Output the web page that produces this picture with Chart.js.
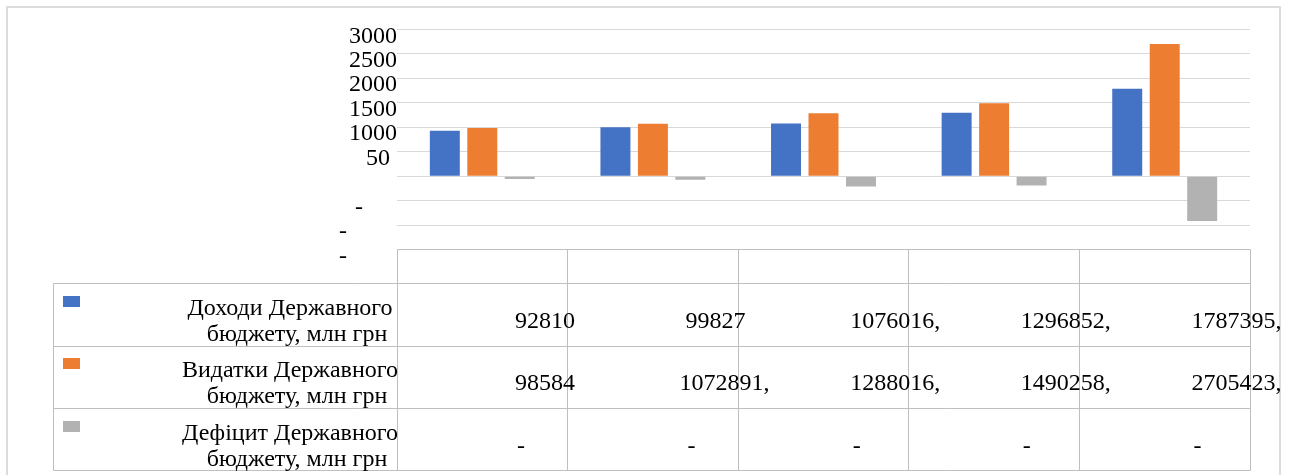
<!DOCTYPE html>
<html lang="uk">
<head>
<meta charset="utf-8">
<title>Доходи, видатки та дефіцит Державного бюджету</title>
<script src="https://cdn.jsdelivr.net/npm/chart.js@4.4.0/dist/chart.umd.min.js"></script>
<style>
  html, body { margin: 0; padding: 0; background: #ffffff; }
  #wrap { position: relative; width: 1293px; height: 475px; overflow: hidden; }
  canvas { display: block; }
</style>
</head>
<body>
<div id="wrap"><canvas id="budget" width="1293" height="475"></canvas></div>
<script>
// Category captions of the data-table header row (left blank)
const categories = ['', '', '', '', ''];

// Series names
const seriesNames = [
  'Доходи Державного бюджету, млн грн',
  'Видатки Державного бюджету, млн грн',
  'Дефіцит Державного бюджету, млн грн'
];

// Series values, млн грн
const revenue     = [928107.9, 998278.0, 1076016.6, 1296852.2, 1787395.4];
const expenditure = [985842.3, 1072891.0, 1288016.3, 1490258.4, 2705423.4];
const deficit     = [-57734.4, -74612.9, -211999.7, -193406.2, -918028.0];

// Value-axis ticks and the captions printed beside them
const yTicks      = [-1500000, -1000000, -500000, 0, 500000, 1000000, 1500000, 2000000, 2500000, 3000000];
const yTickLabels = ['-', '-', '-', '', '50', '1000', '1500', '2000', '2500', '3000'];

// How many leading characters of each table value stay visible in its cell
const shownChars = [
  [5, 5, 8, 8, 8],
  [5, 8, 8, 8, 8],
  [1, 1, 1, 1, 1]
];

const colors = ['#4472C4', '#ED7D31', '#B2B2B2'];
const seriesData = [revenue, expenditure, deficit];

const FONT = "24px 'Liberation Serif', 'Times New Roman', serif";
const TEXT = '#000000';
const BORDER = '#BFBFBF';

// Table geometry (below the plot area)
const rowTops = [283.5, 346, 408.5];
const tableBottom = 470.5;
const tableLeft = 53.5;

function fmt(v) {
  return v.toFixed(1).replace('.', ',');
}

const dataTable = {
  id: 'dataTable',
  afterDraw(chart) {
    const { ctx, chartArea: area, scales } = chart;
    const yScale = scales.y;
    const n = categories.length;
    const step = (area.right - area.left) / n;
    const edge = i => Math.floor(area.left + i * step) + 0.5;
    const headTop = Math.floor(area.bottom) + 0.5;

    ctx.save();

    // outer frame of the chart object
    ctx.strokeStyle = '#DCDCDC';
    ctx.lineWidth = 2;
    ctx.strokeRect(7, 7, 1273, 520);

    // value-axis captions
    ctx.font = FONT;
    ctx.fillStyle = TEXT;
    ctx.textAlign = 'right';
    ctx.textBaseline = 'alphabetic';
    yTicks.forEach((v, i) => {
      const label = yTickLabels[i];
      if (!label) return;
      const py = yScale.getPixelForValue(v) + 13;
      let px = 397;
      if (label === '-') px = (v === -500000) ? 363 : 347;
      else if (label.length < 4) px = 390;
      ctx.fillText(label, px, py);
    });

    // table grid
    ctx.strokeStyle = BORDER;
    ctx.lineWidth = 1;
    ctx.beginPath();
    ctx.moveTo(edge(0), headTop);
    ctx.lineTo(edge(n), headTop);
    [...rowTops, tableBottom].forEach(yy => {
      const yl = Math.floor(yy) + 0.5;
      ctx.moveTo(tableLeft, yl);
      ctx.lineTo(edge(n), yl);
    });
    ctx.moveTo(tableLeft, Math.floor(rowTops[0]) + 0.5);
    ctx.lineTo(tableLeft, Math.floor(tableBottom) + 0.5);
    for (let i = 0; i <= n; i++) {
      ctx.moveTo(edge(i), headTop);
      ctx.lineTo(edge(i), Math.floor(tableBottom) + 0.5);
    }
    ctx.stroke();

    // header row: category captions
    ctx.textAlign = 'center';
    categories.forEach((c, i) => {
      if (c) ctx.fillText(c, area.left + (i + 0.5) * step, headTop + 26);
    });

    // series rows: legend key, name, values
    seriesData.forEach((vals, r) => {
      const top = rowTops[r];
      const bottom = r + 1 < rowTops.length ? rowTops[r + 1] : tableBottom;

      ctx.fillStyle = colors[r];
      ctx.fillRect(63, Math.round(top) + 12, 17, 11);

      ctx.fillStyle = TEXT;
      ctx.textAlign = 'center';
      const words = seriesNames[r].split(' ');
      ctx.fillText(words.slice(0, 2).join(' '), 290, top + 31);
      ctx.fillText(words.slice(2).join(' '), 297, top + 57);

      ctx.textAlign = 'left';
      vals.forEach((v, c) => {
        const s = fmt(v);
        const cx = area.left + (c + 1) * step - 7.6;
        const w = ctx.measureText(s).width;
        const x0 = cx - w / 2;
        const visW = ctx.measureText(s.slice(0, shownChars[r][c])).width;
        ctx.save();
        ctx.beginPath();
        ctx.rect(x0 - 2, top, visW + 2, bottom - top);
        ctx.clip();
        ctx.fillText(s, x0, top + 44);
        ctx.restore();
      });
    });

    ctx.restore();
  }
};

new Chart(document.getElementById('budget'), {
  type: 'bar',
  data: {
    labels: categories.map((c, i) => c || String(i)),
    datasets: seriesNames.map((name, i) => ({
      label: name,
      data: seriesData[i],
      backgroundColor: colors[i],
      borderWidth: 0
    }))
  },
  options: {
    responsive: false,
    animation: false,
    events: [],
    layout: { padding: { left: 0, right: 43, top: 29.5, bottom: 475 - 249.5 } },
    datasets: { bar: { categoryPercentage: 0.659, barPercentage: 0.8 } },
    plugins: {
      legend: { display: false },
      tooltip: { enabled: false },
      title: { display: false }
    },
    scales: {
      x: { display: false },
      y: {
        min: -1500000,
        max: 3000000,
        afterBuildTicks: s => { s.ticks = yTicks.map(v => ({ value: v })); },
        afterFit: s => { s.width = 397; },
        grid: { color: '#D9D9D9', lineWidth: 1, drawTicks: false },
        border: { display: false },
        ticks: { display: false }
      }
    }
  },
  plugins: [dataTable]
});
</script>
</body>
</html>
